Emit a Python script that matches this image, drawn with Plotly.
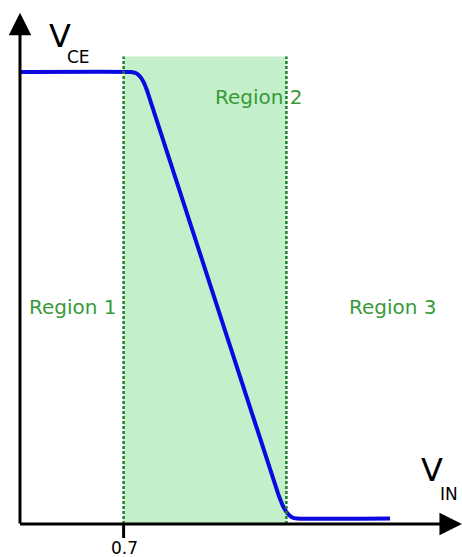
import plotly.graph_objects as go

# Transfer characteristic V_CE vs V_IN
vin = [0.000, 0.750, 0.782, 0.811, 0.835, 0.857, 1.745, 1.774, 1.804, 1.837, 1.872, 2.500]
vce = [5.000, 5.000, 4.988, 4.950, 4.888, 4.801, 0.330, 0.210, 0.125, 0.076, 0.060, 0.060]

region2_x = [0.70, 1.80]
region2_top = 5.17
tick_values = [0.7]
tick_labels = ["0.7"]
region_names = ["Region 1", "Region 2", "Region 3"]
region_label_x = [0.358, 1.615, 2.52]
region_label_y = [2.40, 4.72, 2.40]

x_range = [-0.1351, 2.9865]
y_range = [-0.365, 5.796]
x_axis_end = 2.986
y_axis_end = 5.655

GREEN_TXT = "#389a38"
GREEN_DOT = "#1f7f2a"
FILL = "#c3efcb"
FONT = "DejaVu Sans"

fig = go.Figure()
fig.add_trace(go.Scatter(x=vin, y=vce, mode="lines",
                         line=dict(color="#0a0ae0", width=4, shape="spline", smoothing=0.3),
                         hoverinfo="skip", showlegend=False))

shapes = [
    dict(type="rect", xref="x", yref="y", x0=region2_x[0], x1=region2_x[1], y0=0, y1=region2_top,
         fillcolor=FILL, line=dict(width=0), layer="below"),
]
for xv in region2_x:
    shapes.append(dict(type="line", xref="x", yref="y", x0=xv, x1=xv, y0=0, y1=region2_top,
                       line=dict(color=GREEN_DOT, width=2.5, dash="3px,2px"), layer="above"))
for tv in tick_values:
    shapes.append(dict(type="line", xref="x", yref="y", x0=tv, x1=tv, y0=0, y1=-0.155,
                       line=dict(color="black", width=3), layer="above"))

annotations = []
# axes with arrows
annotations.append(dict(x=0, y=y_axis_end, ax=0, ay=-0.01, xref="x", yref="y", axref="x", ayref="y",
                        showarrow=True, arrowhead=2, arrowsize=1.5, arrowwidth=3, arrowcolor="black", text=""))
annotations.append(dict(x=x_axis_end, y=0, ax=-0.01, ay=0, xref="x", yref="y", axref="x", ayref="y",
                        showarrow=True, arrowhead=2, arrowsize=1.5, arrowwidth=3, arrowcolor="black", text=""))
for tv, tl in zip(tick_values, tick_labels):
    annotations.append(dict(x=tv + 0.005, y=-0.265, xref="x", yref="y", text=tl, showarrow=False,
                            font=dict(family=FONT, size=17, color="black"), xanchor="center", yanchor="middle"))
for name, lx, ly in zip(region_names, region_label_x, region_label_y):
    annotations.append(dict(x=lx, y=ly, xref="x", yref="y", text=name, showarrow=False,
                            font=dict(family=FONT, size=20, color=GREEN_TXT), xanchor="center", yanchor="middle"))
# axis titles
annotations += [
    dict(x=0.267, y=5.393, xref="x", yref="y", text="V", showarrow=False,
         font=dict(family=FONT, size=32, color="black"), xanchor="center", yanchor="middle"),
    dict(x=0.395, y=5.165, xref="x", yref="y", text="CE", showarrow=False,
         font=dict(family=FONT, size=17, color="black"), xanchor="center", yanchor="middle"),
    dict(x=2.787, y=0.592, xref="x", yref="y", text="V", showarrow=False,
         font=dict(family=FONT, size=32, color="black"), xanchor="center", yanchor="middle"),
    dict(x=2.899, y=0.330, xref="x", yref="y", text="IN", showarrow=False,
         font=dict(family=FONT, size=17, color="black"), xanchor="center", yanchor="middle"),
]

fig.update_layout(width=462, height=557, margin=dict(l=0, r=0, t=0, b=0),
                  paper_bgcolor="white", plot_bgcolor="white",
                  xaxis=dict(range=x_range, visible=False, fixedrange=True),
                  yaxis=dict(range=y_range, visible=False, fixedrange=True),
                  shapes=shapes, annotations=annotations, showlegend=False)
fig.write_html("out.html", config={"displayModeBar": False},
               post_script="document.body.style.margin='0';document.body.style.padding='0';document.body.style.overflow='hidden';")
